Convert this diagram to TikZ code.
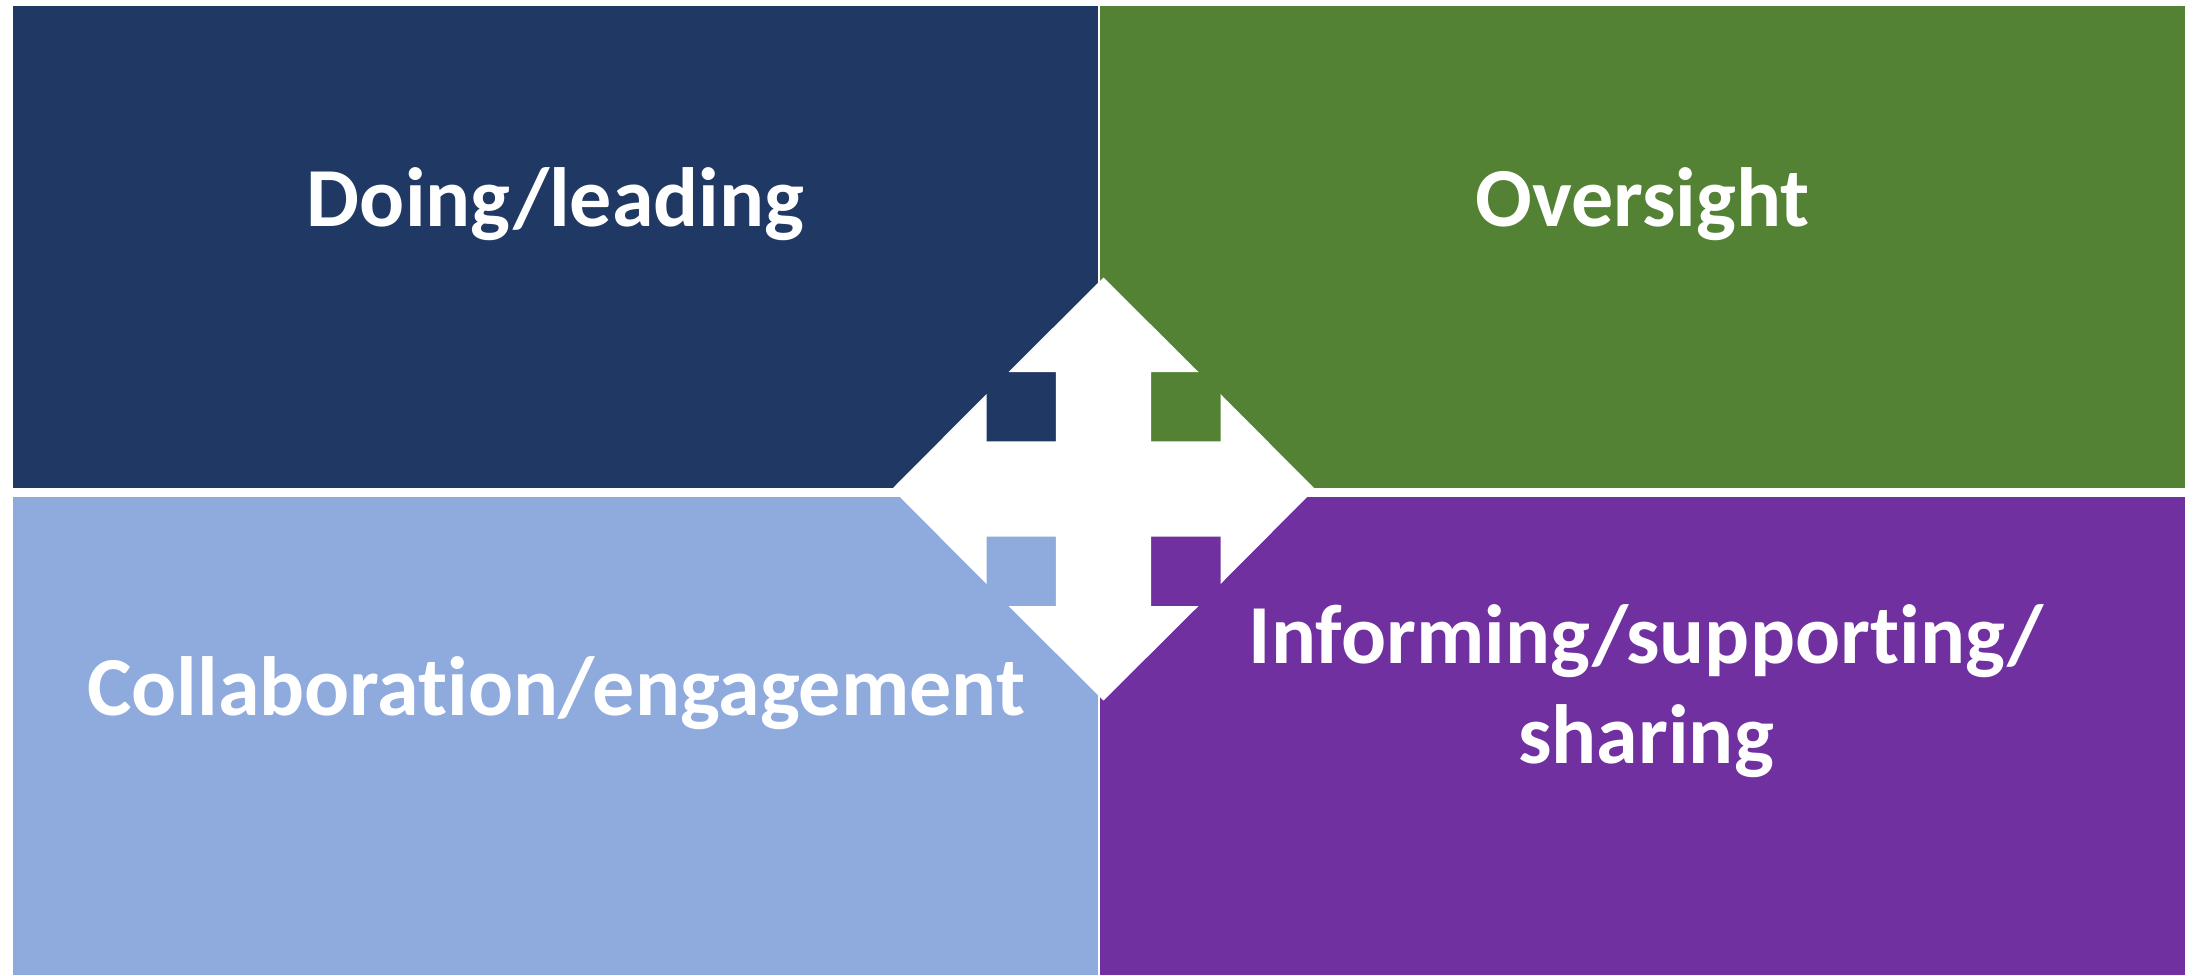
\documentclass[tikz,border=0pt]{standalone}
\usepackage{fontspec}
\setmainfont{Carlito}[Ligatures={NoCommon,NoRare,NoContextual}]
\definecolor{cdark}{HTML}{203864}
\definecolor{cgreen}{HTML}{548235}
\definecolor{clight}{HTML}{8FAADC}
\definecolor{cpurple}{HTML}{7030A0}
\newcommand{\nolig}{\kern0pt}
\tikzset{
  lbl/.style={text=white, font=\fontsize{84}{100}\selectfont\bfseries, inner sep=0pt, align=center},
}
\begin{document}
\begin{tikzpicture}[x=1pt,y=-1pt]
\useasboundingbox (0,0) rectangle (2196,975);
\fill[white] (0,0) rectangle (2196,975);
\fill[cdark] (13,6) rectangle (1098,488);
\fill[cgreen] (1100,6) rectangle (2185,488);
\fill[clight] (13,497) rectangle (1098,975);
\fill[cpurple] (1100,497) rectangle (2185,975);
% four-way arrow
\begin{scope}[shift={(1103.5,489)}]
\def\R{211.5}\def\B{117}\def\H{95}\def\S{47.7}
\fill[white] (0,-\R) -- (\H,-\B) -- (\S,-\B) -- (\S,-\S) -- (\B,-\S) -- (\B,-\H) -- (\R,0)
  -- (\B,\H) -- (\B,\S) -- (\S,\S) -- (\S,\B) -- (\H,\B) -- (0,\R)
  -- (-\H,\B) -- (-\S,\B) -- (-\S,\S) -- (-\B,\S) -- (-\B,\H) -- (-\R,0)
  -- (-\B,-\H) -- (-\B,-\S) -- (-\S,-\S) -- (-\S,-\B) -- (-\H,-\B) -- cycle;
\end{scope}
\node[lbl, anchor=base] (doing) at (555.5,226) {Doing/leading};
\node[lbl, anchor=base] (over) at (1642.5,226) {Oversight};
\node[lbl, anchor=base] (collab) at (556,715) {Collaborat\nolig ion/engagement};
\node[lbl, anchor=base] (inform) at (1646,763) {Informing/support\nolig ing/\\sharing};
\end{tikzpicture}
\end{document}
